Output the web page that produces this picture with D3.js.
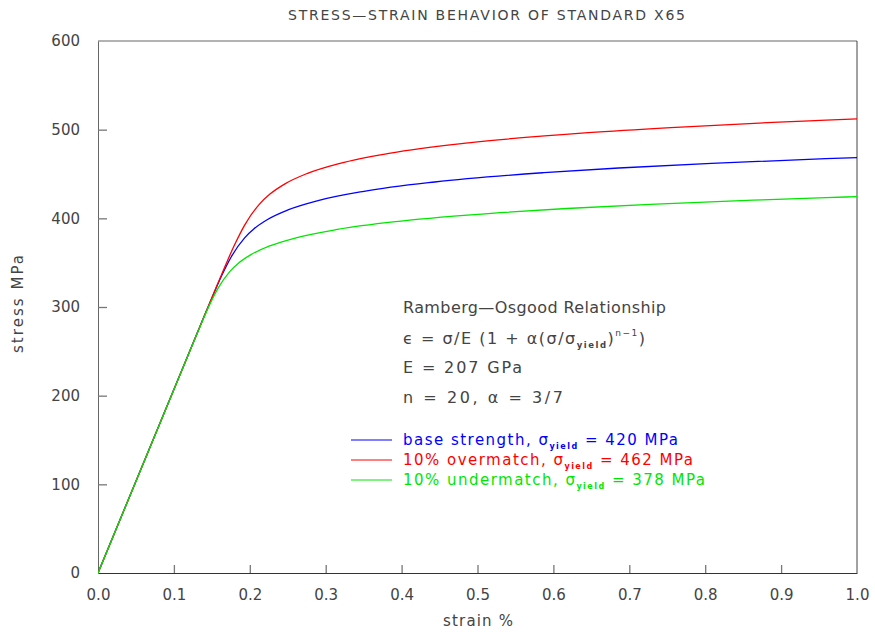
<!DOCTYPE html>
<html>
<head>
<meta charset="utf-8">
<script src="https://cdn.jsdelivr.net/npm/d3@7"></script>
<style>
  html, body { margin: 0; padding: 0; background: #fff; }
  svg { display: block; font-family: "DejaVu Sans", sans-serif; }
</style>
</head>
<body>
<svg id="chart" width="875" height="632"></svg>
<script>
// ---- data ----
const xTicks = [0.0, 0.1, 0.2, 0.3, 0.4, 0.5, 0.6, 0.7, 0.8, 0.9, 1.0];
const yTicks = [0, 100, 200, 300, 400, 500, 600];

const strainBase = [0, 0.12175, 0.14210, 0.15245, 0.16332, 0.17583, 0.19318, 0.20597, 0.22393, 0.25024, 0.28986, 0.35047, 0.44376, 0.58748, 0.68613, 0.80819, 0.95908, 1.0];
const stressBase = [0, 252, 294, 315, 336, 357, 378, 388.5, 399, 409.5, 420, 430.5, 441, 451.5, 456.75, 462, 467.25, 468.5];

const strainOver = [0, 0.13391, 0.15631, 0.16769, 0.17965, 0.19342, 0.21250, 0.22656, 0.24632, 0.27526, 0.31884, 0.38551, 0.48814, 0.64622, 0.75474, 0.88901, 0.95128, 1.0];
const stressOver = [0, 277.2, 323.4, 346.5, 369.6, 392.7, 415.8, 427.35, 438.9, 450.45, 462, 473.55, 485.1, 496.65, 502.4, 508.2, 510.5, 512.2];

const strainUnder = [0, 0.10957, 0.12789, 0.13720, 0.14699, 0.15825, 0.17386, 0.18537, 0.20153, 0.22521, 0.26087, 0.31542, 0.39939, 0.52873, 0.61752, 0.72738, 0.86317, 0.95948, 1.0];
const stressUnder = [0, 226.8, 264.6, 283.5, 302.4, 321.3, 340.2, 349.65, 359.1, 368.55, 378, 387.45, 396.9, 406.35, 411.1, 415.8, 420.5, 423.4, 424.4];

const seriesNames = ["base strength", "10% overmatch", "10% undermatch"];
const seriesYield = ["420", "462", "378"];

// ---- layout ----
const svg = d3.select("#chart");
const L = 98, R = 857, T = 41, B = 573;
const x = d3.scaleLinear().domain([0, 1]).range([L, R]);
const y = d3.scaleLinear().domain([0, 600]).range([B, T]);
const textColor = "#444";

svg.append("defs").append("clipPath").attr("id", "clip")
  .append("rect").attr("x", L).attr("y", T - 1).attr("width", R - L).attr("height", B - T + 1);

// frame (top and right)
svg.append("line").attr("x1", L).attr("x2", R).attr("y1", T).attr("y2", T).attr("stroke", "#666").attr("stroke-width", 1);
svg.append("line").attr("x1", R).attr("x2", R).attr("y1", T).attr("y2", B).attr("stroke", "#444").attr("stroke-width", 1);

// axes
const xAxis = d3.axisBottom(x).tickValues(xTicks).tickFormat(d3.format(".1f")).tickSizeInner(-8).tickSizeOuter(0).tickPadding(16);
const gx = svg.append("g").attr("transform", `translate(0,${B})`).call(xAxis);
gx.select(".domain").attr("stroke", "#333");
gx.selectAll(".tick line").attr("stroke", "#777").attr("stroke-width", 1.3)
  .filter(d => d === 0 || d === 1).remove();
gx.selectAll(".tick text").attr("fill", textColor).attr("font-size", 15).attr("font-family", "DejaVu Sans");

const yAxis = d3.axisLeft(y).tickValues(yTicks).tickFormat(d3.format("d")).tickSizeInner(-9).tickSizeOuter(0).tickPadding(18);
const gy = svg.append("g").attr("transform", `translate(${L},0)`).call(yAxis);
gy.select(".domain").attr("stroke", "#666");
gy.selectAll(".tick line").attr("stroke", "#777").attr("stroke-width", 1.3)
  .filter(d => d === 0 || d === 600).remove();
gy.selectAll(".tick text").attr("fill", textColor).attr("font-size", 15).attr("font-family", "DejaVu Sans");

// axis titles
svg.append("text").attr("x", 478).attr("y", 626).attr("text-anchor", "middle")
  .attr("fill", textColor).attr("font-size", 15).attr("textLength", 70).attr("lengthAdjust", "spacing").text("strain %");
svg.append("text").attr("transform", "translate(23,304) rotate(-90)").attr("text-anchor", "middle")
  .attr("fill", textColor).attr("font-size", 15).attr("textLength", 98).attr("lengthAdjust", "spacing").text("stress MPa");

// title
svg.append("text").attr("x", 288).attr("y", 20)
  .attr("fill", textColor).attr("font-size", 14)
  .attr("textLength", 397).attr("lengthAdjust", "spacing")
  .text("STRESS\u2014STRAIN BEHAVIOR OF STANDARD X65");

// curves
const colors = ["#0000ff", "#ff0000", "#00e600"];
const series = [
  { strain: strainBase, stress: stressBase, color: colors[0] },
  { strain: strainOver, stress: stressOver, color: colors[1] },
  { strain: strainUnder, stress: stressUnder, color: colors[2] }
];
const line = d3.line().x(d => x(d[0])).y(d => y(d[1])).curve(d3.curveMonotoneX);
const gc = svg.append("g").attr("clip-path", "url(#clip)");
series.forEach(s => {
  gc.append("path").datum(d3.zip(s.strain, s.stress))
    .attr("d", line).attr("fill", "none").attr("stroke", s.color).attr("stroke-width", 1.3);
});

// annotation
const ax = 403;
const ann = svg.append("g").attr("fill", textColor).attr("font-size", 16);
ann.append("text").attr("x", ax).attr("y", 313)
  .attr("textLength", 263).attr("lengthAdjust", "spacing").text("Ramberg\u2014Osgood Relationship");
const t2 = ann.append("text").attr("x", ax).attr("y", 344).attr("textLength", 242).attr("lengthAdjust", "spacing");
t2.append("tspan").text("\u03f5 = \u03c3/E (1 + \u03b1(\u03c3/\u03c3");
t2.append("tspan").attr("font-size", 8.5).attr("dy", 4).attr("font-weight", "bold").text("yield");
t2.append("tspan").attr("dy", -4).text(")");
t2.append("tspan").attr("font-size", 9).attr("dy", -8).text("n\u22121");
t2.append("tspan").attr("dy", 8).text(")");
ann.append("text").attr("x", ax).attr("y", 373)
  .attr("textLength", 119).attr("lengthAdjust", "spacing").text("E = 207 GPa");
ann.append("text").attr("x", ax).attr("y", 403)
  .attr("textLength", 160).attr("lengthAdjust", "spacing").text("n = 20, \u03b1 = 3/7");

// legend
const legY = [440, 460, 480];
const legW = [275, 290, 302];
series.forEach((s, i) => {
  svg.append("line").attr("x1", 351).attr("x2", 392).attr("y1", legY[i]).attr("y2", legY[i])
    .attr("stroke", s.color).attr("stroke-width", 1);
  const t = svg.append("text").attr("x", ax).attr("y", legY[i] + 5).attr("fill", s.color).attr("font-size", 15)
    .attr("textLength", legW[i]).attr("lengthAdjust", "spacing");
  t.append("tspan").text(seriesNames[i] + ", \u03c3");
  t.append("tspan").attr("font-size", 8).attr("dy", 4).attr("font-weight", "bold").text("yield");
  t.append("tspan").attr("dy", -4).text(" = " + seriesYield[i] + " MPa");
});
</script>
</body>
</html>
